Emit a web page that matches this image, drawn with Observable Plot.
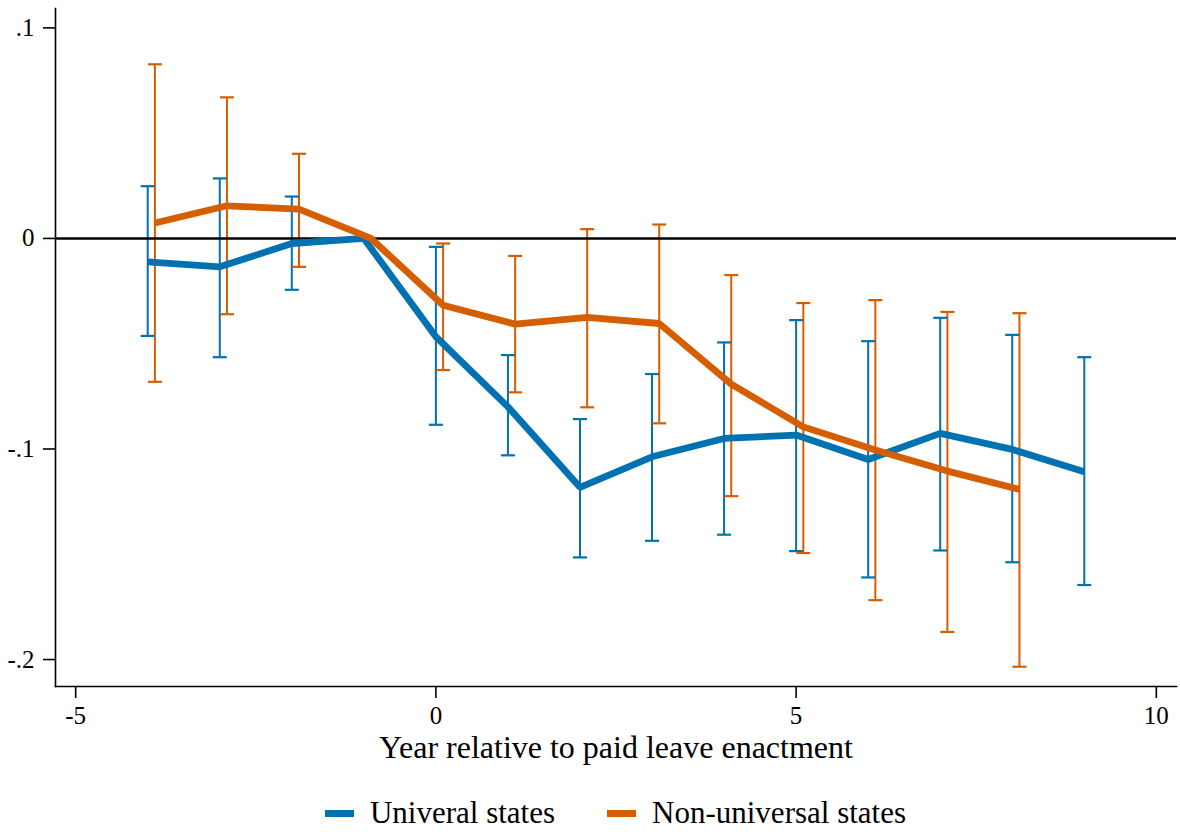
<!DOCTYPE html>
<html>
<head>
<meta charset="utf-8">
<script src="https://cdn.jsdelivr.net/npm/d3@7"></script>
<script src="https://cdn.jsdelivr.net/npm/@observablehq/plot@0.6"></script>
<style>
  html, body { margin: 0; padding: 0; background: #fff; }
  body { width: 1180px; height: 832px; overflow: hidden; font-family: "Liberation Serif", "Times New Roman", serif; }
  #chart svg { display: block; }
  #chart svg, #chart svg text { font-family: "Liberation Serif", "Times New Roman", serif !important; }
  #legend { display: flex; justify-content: center; align-items: center; height: 40px; margin-top: 18px; padding: 0 4px 0 55px; font-size: 31px; color: #000; }
  .item { display: flex; align-items: center; }
  .item + .item { margin-left: 52px; }
  .swatch { width: 29px; height: 7px; margin-right: 16px; }
</style>
</head>
<body>
<div id="chart"></div>
<div id="legend"></div>
<script>
// Event-study estimates with 95% confidence intervals; year -1 is the omitted reference year.
const years = [-4, -3, -2, -1, 0, 1, 2, 3, 4, 5, 6, 7, 8, 9];
const universalEst = [-0.0111, -0.0135, -0.0024, 0, -0.0467, -0.0800, -0.1182, -0.1037, -0.0950, -0.0934, -0.1050, -0.0926, -0.1002, -0.1108];
const universalHi  = [0.0248, 0.0285, 0.0199, null, -0.0040, -0.0554, -0.0858, -0.0644, -0.0494, -0.0388, -0.0488, -0.0377, -0.0458, -0.0564];
const universalLo  = [-0.0463, -0.0564, -0.0244, null, -0.0885, -0.1030, -0.1515, -0.1436, -0.1407, -0.1485, -0.1610, -0.1482, -0.1538, -0.1646];

const nonUniversalYears = [-4, -3, -2, -1, 0, 1, 2, 3, 4, 5, 6, 7, 8];
const nonUniversalEst = [0.0073, 0.0155, 0.0139, 0, -0.0317, -0.0407, -0.0375, -0.0404, -0.0692, -0.0895, -0.1005, -0.1105, -0.1192];
const nonUniversalHi  = [0.0827, 0.0670, 0.0402, null, -0.0024, -0.0083, 0.0044, 0.0066, -0.0174, -0.0307, -0.0293, -0.0349, -0.0355];
const nonUniversalLo  = [-0.0681, -0.0360, -0.0135, null, -0.0625, -0.0731, -0.0802, -0.0878, -0.1224, -0.1494, -0.1718, -0.1869, -0.2034];

const seriesNames = ["Univeral states", "Non-universal states"];
const seriesColors = ["#0072b2", "#d55e00"];
const xTicks = [-5, 0, 5, 10];
const yTicks = [0.1, 0, -0.1, -0.2];
const yTickLabels = [".1", "0", "-.1", "-.2"];
const xLabel = "Year relative to paid leave enactment";

// The second series is nudged right so its intervals do not overlap the first.
const dodge = 0.1;

const rows = [
  ...years.map((year, i) => ({series: seriesNames[0], x: year, est: universalEst[i], lo: universalLo[i], hi: universalHi[i]})),
  ...nonUniversalYears.map((year, i) => ({series: seriesNames[1], x: year + dodge, est: nonUniversalEst[i], lo: nonUniversalLo[i], hi: nonUniversalHi[i]}))
];
const withCI = rows.filter(d => d.lo != null && d.hi != null);
const caps = withCI.flatMap(d => [{series: d.series, x: d.x, y: d.lo}, {series: d.series, x: d.x, y: d.hi}]);

// Horizontal bar used as the cap of each confidence interval.
const capSymbol = {
  draw(context, size) {
    const w = Math.sqrt(size / Math.PI);
    context.moveTo(-w, 0);
    context.lineTo(w, 0);
  }
};

const color = {domain: seriesNames, range: seriesColors};

const chart = Plot.plot({
  width: 1180,
  height: 775,
  marginLeft: 55,
  marginRight: 4,
  marginTop: 8,
  marginBottom: 89,
  style: {fontFamily: "'Liberation Serif', 'Times New Roman', serif", fontSize: "25px", color: "#000", background: "#fff"},
  x: {domain: [-5.28, 10.28]},
  y: {domain: [-0.2128, 0.1092]},
  color,
  marks: [
    Plot.ruleX(withCI, {x: "x", y1: "lo", y2: "hi", stroke: "series", strokeWidth: 2}),
    Plot.dot(caps, {x: "x", y: "y", symbol: capSymbol, r: 7, fill: "none", stroke: "series", strokeWidth: 2.2}),
    Plot.ruleY([0], {stroke: "#000", strokeWidth: 2.6}),
    Plot.line(rows.filter(d => d.series === seriesNames[0]), {x: "x", y: "est", stroke: seriesColors[0], strokeWidth: 6.8, strokeLinejoin: "miter", strokeLinecap: "butt"}),
    Plot.line(rows.filter(d => d.series === seriesNames[1]), {x: "x", y: "est", stroke: seriesColors[1], strokeWidth: 6.8, strokeLinejoin: "miter", strokeLinecap: "butt"}),
    Plot.frame({anchor: "left", stroke: "#000", strokeWidth: 1.6}),
    Plot.frame({anchor: "bottom", stroke: "#000", strokeWidth: 1.6}),
    Plot.axisY({ticks: yTicks, tickFormat: (d) => yTickLabels[yTicks.indexOf(d)], tickSize: 12, tickPadding: 9, label: null, stroke: "#000", strokeWidth: 1.6, fontSize: 25}),
    Plot.axisX({ticks: xTicks, tickFormat: (d) => String(d), tickSize: 12, tickPadding: 8, stroke: "#000", strokeWidth: 1.6, fontSize: 25,
      label: xLabel, labelAnchor: "center", labelArrow: "none", labelOffset: 71})
  ]
});
document.getElementById("chart").append(chart);
chart.querySelectorAll("g[aria-label='x-axis label'] text").forEach(t => t.setAttribute("font-size", "32"));

// Legend below the plot
const legend = document.getElementById("legend");
seriesNames.forEach((name, i) => {
  const item = document.createElement("div");
  item.className = "item";
  const sw = document.createElement("span");
  sw.className = "swatch";
  sw.style.background = seriesColors[i];
  const label = document.createElement("span");
  label.textContent = name;
  item.append(sw, label);
  legend.append(item);
});
</script>
</body>
</html>
